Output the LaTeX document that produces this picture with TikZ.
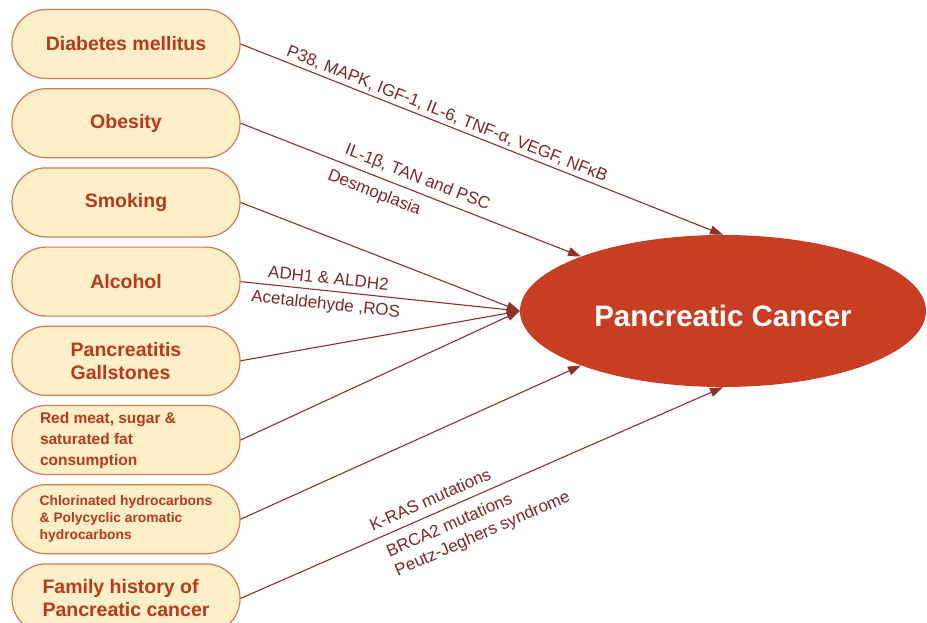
\documentclass[tikz,border=0pt]{standalone}
\usepackage{fontspec}
\setmainfont{Liberation Sans}
\usepackage{tikz}
\usetikzlibrary{arrows.meta,shapes.geometric,positioning}

\definecolor{boxfill}{RGB}{253,239,200}
\definecolor{boxline}{RGB}{214,122,82}
\definecolor{boxtext}{RGB}{186,56,30}
\definecolor{linkcol}{RGB}{140,50,40}
\definecolor{pcfill}{RGB}{200,62,34}
\definecolor{labtext}{RGB}{122,40,40}

\begin{document}
\begin{tikzpicture}[
        x=1pt, y=-1pt,
        node distance=9pt,
        factor/.style={draw=boxline, line width=1.2pt, fill=boxfill, rounded corners=34pt,
            minimum width=228pt, minimum height=69pt, text=boxtext, align=center,
            font=\fontsize{19.5}{23}\selectfont\bfseries},
        small/.style={font=\fontsize{15.5}{21}\selectfont\bfseries, align=left},
        tiny/.style={font=\fontsize{13.8}{17}\selectfont\bfseries, align=left},
        cancer/.style={ellipse, fill=pcfill, minimum width=406pt, minimum height=152pt,
            inner sep=0pt, text=white, text height=31pt, text depth=0pt,
            font=\fontsize{29.5}{34}\selectfont\bfseries},
        link/.style={draw=linkcol, line width=1.1pt, -{Triangle[length=13pt,width=9pt]}},
        lab/.style={text=labtext, font=\fontsize{17}{21}\selectfont, sloped, inner sep=3pt}
    ]
    \useasboundingbox (0,0) rectangle (927,622);

    % Nodes
    \node[factor] (diab) at (126,44) {Diabetes mellitus};
    \node[factor, below=of diab] (obes) {Obesity};
    \node[factor, below=of obes] (smok) {Smoking};
    \node[factor, below=of smok] (alc) {Alcohol};
    \node[factor, below=of alc, align=left] (panc) {Pancreatitis\\Gallstones};
    \node[factor, below=of panc, small] (meat) {\parbox{172pt}{Red meat, sugar \&\\saturated fat\\consumption}};
    \node[factor, below=of meat, tiny] (chlor) {Chlorinated hydrocarbons\\\& Polycyclic aromatic\\hydrocarbons};
    \node[factor, below=of chlor, align=left] (fam) {Family history of\\Pancreatic cancer};

    \node[cancer] (pc) at (723,311) {Pancreatic Cancer};

    % Edges
    \draw[link] (diab.east) -- (pc.north)
        node[lab, pos=0.42, above] {P38, MAPK, IGF-1, IL-6, TNF-α, VEGF, NFκB};
    \draw[link] (obes.east) -- (pc.159)
        node[lab, pos=0.505, above, inner sep=5pt] {IL-1β, TAN and PSC}
        node[lab, pos=0.41, below, inner sep=8pt] {Desmoplasia};
    \draw[link] (smok.east) -- (pc.west);
    \draw[link] (alc.east) -- (pc.west)
        node[lab, pos=0.31, above, inner sep=6pt] {ADH1 \& ALDH2}
        node[lab, pos=0.31, below, inner sep=6pt] {Acetaldehyde ,ROS};
    \draw[link] (panc.east) -- (pc.west);
    \draw[link] (meat.east) -- (pc.west);
    \draw[link] (chlor.east) -- (pc.201);
    \draw[link] (fam.east) -- (pc.south)
        node[lab, pos=0.405, above, inner sep=8pt] {K-RAS mutations}
        node[lab, pos=0.47, below, inner sep=9pt, align=left] {BRCA2 mutations\\Peutz-Jeghers syndrome};

\end{tikzpicture}
\end{document}
